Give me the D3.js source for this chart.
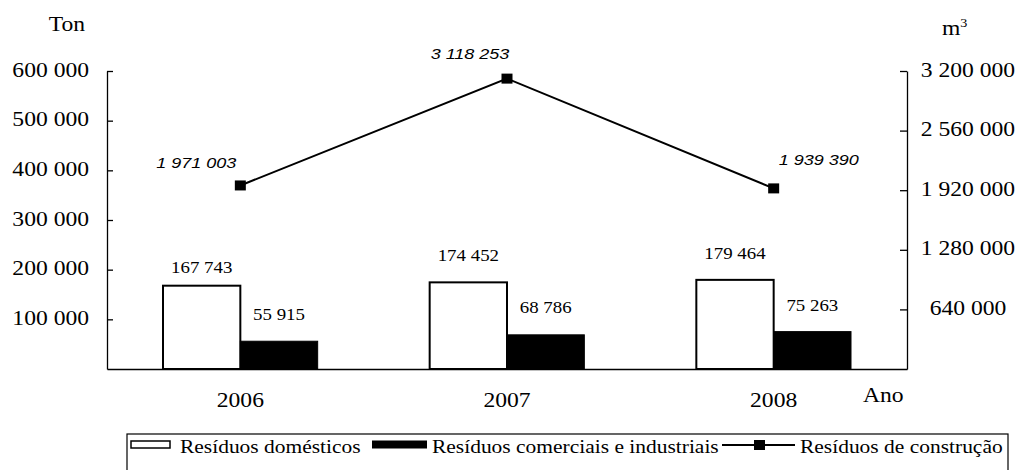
<!DOCTYPE html>
<html><head><meta charset="utf-8">
<script src="https://cdn.jsdelivr.net/npm/d3@7"></script>
<style>
body{margin:0;background:#fff}svg{display:block}
.serif{font-family:'Liberation Serif',Tinos,'Times New Roman',Times,serif}
.sans{font-family:'Liberation Sans',Arimo,Arial,Helvetica,sans-serif}
</style>
</head><body>
<script>
const categories = ["2006", "2007", "2008"];
const domesticos = [167743, 174452, 179464];
const comerciais = [55915, 68786, 75263];
const construcao = [1971003, 3118253, 1939390];
const leftTicks = [100000, 200000, 300000, 400000, 500000, 600000];
const rightTicks = [640000, 1280000, 1920000, 2560000, 3200000];
const seriesNames = ["Resíduos domésticos", "Resíduos comerciais e industriais", "Resíduos de construção"];
const leftTitle = "Ton";
const rightTitle = "m";
const xTitle = "Ano";

// styling / label placement (not data)
const lineLabelOffsets = [[-44, -17], [-37, -20], [45, -23]];
const barLabelGap = [[13, 21, 21], [21, 22, 21]];

const W = 1020, H = 470;
const m = {left: 107, right: 907, top: 71, bottom: 369};
const SX = 1.18;
const fmt = v => d3.format(",")(v).replace(/,/g, " ");

const svg = d3.select("body").append("svg").attr("width", W).attr("height", H);
svg.append("rect").attr("width", W).attr("height", H).attr("fill", "#fff");

const x = d3.scaleBand().domain(categories).range([m.left, m.right]).paddingInner(0.42).paddingOuter(0.21);
const xs = d3.scaleBand().domain([0, 1]).range([0, x.bandwidth()]);
const yL = d3.scaleLinear().domain([0, 600000]).range([m.bottom, m.top]);
const yR = d3.scaleLinear().domain([0, 3200000]).range([m.bottom, m.top]);

function txt(parent, px, py, str, o) {
  const sx = o.sx || SX;
  return parent.append("text")
    .attr("class", o.cls || "serif")
    .attr("transform", `translate(${px},${py}) scale(${sx},1)`)
    .attr("text-anchor", o.anchor || "start")
    .attr("font-size", o.size || 20)
    .attr("font-style", o.style || "normal")
    .attr("fill", "#000")
    .text(str);
}
function stretch(sel, sx) {
  sel.each(function () {
    const t = d3.select(this);
    const xx = +t.attr("x") || 0;
    t.attr("x", xx / sx).attr("transform", `scale(${sx},1)`);
  });
}

// bars
const barData = [];
categories.forEach((c, i) => {
  barData.push({c, i, k: 0, v: domesticos[i]});
  barData.push({c, i, k: 1, v: comerciais[i]});
});
const bars = svg.append("g");
bars.selectAll("rect").data(barData).join("rect")
  .attr("x", d => x(d.c) + xs(d.k))
  .attr("y", d => yL(d.v))
  .attr("width", xs.bandwidth())
  .attr("height", d => yL(0) - yL(d.v))
  .attr("fill", d => d.k ? "#000" : "#fff")
  .attr("stroke", "#000")
  .attr("stroke-width", d => d.k ? 1 : 2);

barData.forEach(d => {
  txt(svg, x(d.c) + xs(d.k) + xs.bandwidth() / 2, yL(d.v) - barLabelGap[d.k][d.i], fmt(d.v),
      {anchor: "middle", size: 16});
});

// axes
const axL = svg.append("g").attr("transform", `translate(${m.left},0)`)
  .call(d3.axisLeft(yL).tickValues(leftTicks).tickSizeInner(-6).tickSizeOuter(0).tickPadding(18).tickFormat(fmt));
const axR = svg.append("g").attr("transform", `translate(${m.right},0)`)
  .call(d3.axisRight(yR).tickValues(rightTicks).tickSizeInner(-7).tickSizeOuter(0).tickPadding(61).tickFormat(fmt));
const axB = svg.append("g").attr("transform", `translate(0,${m.bottom})`)
  .call(d3.axisBottom(x).tickSize(0).tickPadding(0));

[axL, axR, axB].forEach(a => {
  a.attr("font-family", null);
  a.selectAll("path,line").attr("stroke", "#000").attr("stroke-width", 1.3);
  a.selectAll("text").attr("class", "serif").attr("font-size", 20).attr("fill", "#000");
});
axL.selectAll("text").attr("dy", "0.25em");
axR.selectAll("text").attr("dy", "0.25em").attr("text-anchor", "middle");
axB.selectAll("text").attr("y", 38).attr("dy", 0);
stretch(axL.selectAll("text"), SX);
stretch(axR.selectAll("text"), SX);
stretch(axB.selectAll("text"), SX);

// titles
txt(svg, 85, 31, leftTitle, {anchor: "end", size: 20});
const mt = txt(svg, 942, 35, rightTitle, {size: 20});
mt.append("tspan").attr("font-size", 12).attr("dy", -8).text("3");
txt(svg, 863, 402, xTitle, {size: 20});

// line
const cx = c => x(c) + x.bandwidth() / 2;
const line = d3.line().x(d => cx(d.c)).y(d => yR(d.v));
const lineData = categories.map((c, i) => ({c, i, v: construcao[i]}));
svg.append("path").datum(lineData).attr("d", line)
  .attr("fill", "none").attr("stroke", "#000").attr("stroke-width", 2);
svg.append("g").selectAll("rect").data(lineData).join("rect")
  .attr("x", d => cx(d.c) - 5.5).attr("y", d => yR(d.v) - 5)
  .attr("width", 11).attr("height", 10).attr("fill", "#000");
lineData.forEach(d => {
  const o = lineLabelOffsets[d.i];
  txt(svg, cx(d.c) + o[0], yR(d.v) + o[1], fmt(d.v),
      {anchor: "middle", cls: "sans", size: 15, style: "italic", sx: 1.2});
});

// legend
const lg = svg.append("g");
lg.append("rect").attr("x", 127).attr("y", 434).attr("width", 881).attr("height", 45)
  .attr("fill", "none").attr("stroke", "#000").attr("stroke-width", 1.2);
lg.append("rect").attr("x", 131).attr("y", 441).attr("width", 39).attr("height", 7)
  .attr("fill", "#fff").attr("stroke", "#000").attr("stroke-width", 1.5);
txt(lg, 180, 453, seriesNames[0], {size: 19, sx: 1.13});
lg.append("rect").attr("x", 372).attr("y", 440.5).attr("width", 55).attr("height", 8)
  .attr("fill", "#000");
txt(lg, 432, 453, seriesNames[1], {size: 19, sx: 1.13});
lg.append("line").attr("x1", 722).attr("x2", 795).attr("y1", 445).attr("y2", 445)
  .attr("stroke", "#000").attr("stroke-width", 2);
lg.append("rect").attr("x", 754).attr("y", 440).attr("width", 11).attr("height", 10).attr("fill", "#000");
txt(lg, 800, 453, seriesNames[2], {size: 19, sx: 1.13});
</script>
</body></html>
